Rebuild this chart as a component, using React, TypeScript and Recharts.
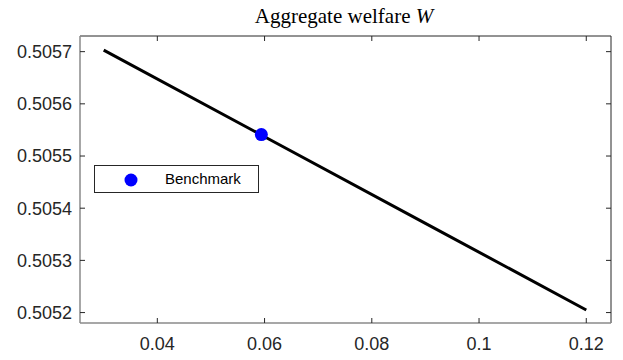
import { ComposedChart, Line, Scatter, XAxis, YAxis, ReferenceLine, Legend } from 'recharts'

// welfare curve, read along the tax grid
const taxRate = [0.03, 0.06, 0.09, 0.12]
const welfare = [0.505703, 0.505537, 0.505371, 0.505205]

// benchmark calibration
const benchmarkRate = [0.0594]
const benchmarkWelfare = [0.505541]

const xTicks = [0.04, 0.06, 0.08, 0.1, 0.12]
const yTicks = [0.5052, 0.5053, 0.5054, 0.5055, 0.5056, 0.5057]
const xDomain = [0.02558, 0.12461]
const yDomain = [0.50518, 0.50573]

const curve = taxRate.map((x, i) => ({ x, w: welfare[i] }))
const bench = benchmarkRate.map((x, i) => ({ x, w: benchmarkWelfare[i] }))

const W = 623
const H = 360
const PLOT_L = 80
const PLOT_T = 36
const PLOT_R = 611
const PLOT_B = 323
const TICK_LEN = 5
const DARK = '#262626'
const AXIS_GRAY = '#8a8a8a'
const SANS = '"Liberation Sans", Arial, Helvetica, sans-serif'

const YTick = (props: any) => {
  const { x, y, payload } = props
  return (
    <g>
      <line x1={PLOT_L} x2={PLOT_L + TICK_LEN} y1={y} y2={y} stroke={DARK} />
      <line x1={PLOT_R - TICK_LEN} x2={PLOT_R} y1={y} y2={y} stroke={DARK} />
      <text x={x} y={y} dy="0.35em" textAnchor="end" fontFamily={SANS} fontSize={18} fill={DARK}>
        {String(payload.value)}
      </text>
    </g>
  )
}

const XTick = (props: any) => {
  const { x, payload } = props
  return (
    <g>
      <line x1={x} x2={x} y1={PLOT_B} y2={PLOT_B - TICK_LEN} stroke={DARK} />
      <line x1={x} x2={x} y1={PLOT_T} y2={PLOT_T + TICK_LEN} stroke={DARK} />
      <text x={x} y={PLOT_B + 27} textAnchor="middle" fontFamily={SANS} fontSize={18} fill={DARK}>
        {String(payload.value)}
      </text>
    </g>
  )
}

const BenchmarkLegend = () => (
  <div
    style={{
      width: 165,
      height: 28,
      boxSizing: 'border-box',
      border: `1px solid ${DARK}`,
      background: '#fff',
      position: 'relative',
      fontFamily: SANS,
      fontSize: 15,
      color: '#000',
    }}
  >
    <svg width={20} height={20} style={{ position: 'absolute', left: 26, top: 4 }}>
      <circle cx={10} cy={10} r={6.5} fill="#0000ff" />
    </svg>
    <span style={{ position: 'absolute', left: 70, top: 4, lineHeight: '18px' }}>Benchmark</span>
  </div>
)

export default function App() {
  return (
    <div style={{ position: 'absolute', left: 0, top: 0, width: W, height: H, background: '#fff' }}>
      <div
        style={{
          position: 'absolute',
          left: 194,
          top: 6,
          width: 300,
          textAlign: 'center',
          fontFamily: '"Liberation Serif", "Times New Roman", serif',
          fontSize: 21,
          lineHeight: '21px',
          color: '#000',
        }}
      >
        Aggregate welfare <i>W</i>
      </div>
      <ComposedChart width={W} height={H} margin={{ top: PLOT_T, right: W - PLOT_R, bottom: 0, left: 0 }}>
        <XAxis
          dataKey="x"
          type="number"
          domain={xDomain}
          ticks={xTicks}
          allowDataOverflow
          height={H - PLOT_B}
          tickSize={0}
          tickMargin={0}
          tickLine={false}
          tick={<XTick />}
          axisLine={{ stroke: AXIS_GRAY, strokeWidth: 1.5 }}
          interval={0}
        />
        <YAxis
          dataKey="w"
          type="number"
          domain={yDomain}
          ticks={yTicks}
          allowDataOverflow
          width={PLOT_L}
          tickSize={0}
          tickMargin={8}
          tickLine={false}
          tick={<YTick />}
          axisLine={{ stroke: AXIS_GRAY, strokeWidth: 1.5 }}
          interval={0}
        />
        {/* box frame on top and right */}
        <ReferenceLine y={yDomain[1]} stroke={DARK} strokeWidth={1} ifOverflow="extendDomain" />
        <ReferenceLine x={xDomain[1]} stroke={DARK} strokeWidth={1} ifOverflow="extendDomain" />
        <Line
          data={curve}
          dataKey="w"
          type="linear"
          stroke="#000"
          strokeWidth={3}
          dot={false}
          activeDot={false}
          isAnimationActive={false}
          legendType="none"
        />
        <Scatter
          data={bench}
          dataKey="w"
          name="Benchmark"
          fill="#0000ff"
          isAnimationActive={false}
          shape={(p: any) => <circle cx={p.cx} cy={p.cy} r={6.5} fill="#0000ff" />}
        />
        <Legend
          layout="horizontal"
          verticalAlign="middle"
          align="center"
          content={<BenchmarkLegend />}
          wrapperStyle={{ left: 94, top: 165, width: 165, height: 28 }}
        />
      </ComposedChart>
    </div>
  )
}
